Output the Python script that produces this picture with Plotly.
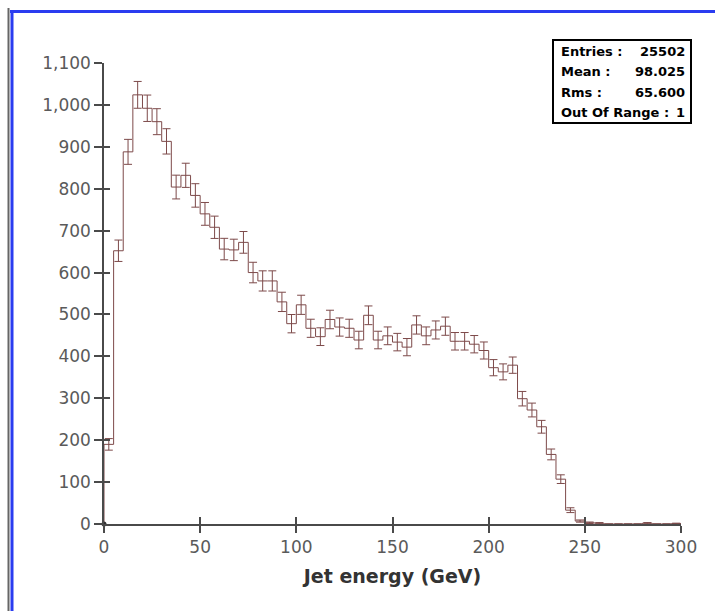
import numpy as np
import plotly.graph_objects as go

# ---- data -------------------------------------------------------------
bin_edges_start = 0
bin_width = 5
counts = [190, 652, 888, 1024, 992, 960, 913, 804, 832, 784,
          740, 708, 656, 654, 672, 600, 580, 580, 530, 478,
          523, 467, 447, 488, 470, 467, 439, 498, 439, 449,
          434, 422, 475, 449, 463, 472, 436, 436, 429, 414,
          373, 363, 379, 299, 272, 232, 166, 107, 33, 7,
          3, 2, 0, 0, 0, 0, 2, 0, 0, 1]
x_ticks = [0, 50, 100, 150, 200, 250, 300]
y_ticks = list(range(0, 1101, 100))
stat_labels = ["Entries :", "Mean :", "Rms :", "Out Of Range :"]
stat_values = ["25502", "98.025", "65.600", "1"]
x_title = "Jet energy (GeV)"

# ---- derived ----------------------------------------------------------
n = len(counts)
edges = [bin_edges_start + i * bin_width for i in range(n + 1)]
centers = [e + bin_width / 2 for e in edges[:-1]]
errors = np.sqrt(np.array(counts, dtype=float))

W, H = 715, 611
L, R, T, B = 104, 34, 63, 87
pw, ph = W - L - R, H - T - B


def px_x(px):
    return (px - L) / pw


def px_y(py):
    return (H - B - py) / ph


line_col = "#7d4a4a"
axis_col = "#4a4a4a"

fig = go.Figure()

# step histogram
fig.add_trace(go.Scatter(
    x=[edges[0]] + edges[:-1] + [edges[-1]],
    y=[0] + counts + [counts[-1]],
    mode="lines", line=dict(color=line_col, width=1, shape="hv"),
    hoverinfo="skip", showlegend=False, cliponaxis=False))

# error bars
fig.add_trace(go.Scatter(
    x=centers, y=counts, mode="markers",
    marker=dict(size=1, color="rgba(0,0,0,0)"),
    error_y=dict(type="data", array=errors, visible=True,
                 color=line_col, thickness=1, width=4),
    showlegend=False, cliponaxis=False))

# origin dot
fig.add_trace(go.Scatter(x=[0], y=[0], mode="markers",
                         marker=dict(size=5, color="#333333"),
                         showlegend=False, cliponaxis=False))

# dummy trace on overlay axes (inside ticks)
fig.add_trace(go.Scatter(x=[0], y=[0], xaxis="x2", yaxis="y2",
                         mode="markers", marker=dict(size=0.1, color="rgba(0,0,0,0)"),
                         showlegend=False, hoverinfo="skip"))

tick_font = dict(family="DejaVu Sans", size=17, color="#5a5a5a")

fig.update_layout(
    width=W, height=H,
    margin=dict(l=L, r=R, t=T, b=B),
    paper_bgcolor="white", plot_bgcolor="white",
    xaxis=dict(range=[0, 300], tickvals=x_ticks, ticks="outside", ticklen=7,
               tickwidth=1.5, tickcolor=axis_col, showline=True, linecolor=axis_col,
               linewidth=1.5, showgrid=False, zeroline=False, tickfont=tick_font,
               title=dict(text=x_title, standoff=14,
                          font=dict(family="DejaVu Sans", size=19, color="#333333",
                                    weight="bold"))),
    yaxis=dict(range=[0, 1100], tickvals=y_ticks, tickformat=",d", ticks="outside",
               ticklen=8, tickwidth=1.5, tickcolor=axis_col, showline=True,
               linecolor=axis_col, linewidth=1.5, showgrid=False, zeroline=False,
               tickfont=tick_font),
    xaxis2=dict(overlaying="x", matches="x", anchor="y2", tickvals=x_ticks,
                ticks="inside", ticklen=7, tickwidth=1.5, tickcolor=axis_col,
                showticklabels=False, showline=False, showgrid=False, zeroline=False),
    yaxis2=dict(overlaying="y", matches="y", anchor="x2", side="left", tickvals=y_ticks,
                ticks="inside", ticklen=6, tickwidth=1.5, tickcolor=axis_col,
                showticklabels=False, showline=False, showgrid=False, zeroline=False),
)

shapes = []
# stats box
shapes.append(dict(type="rect", xref="paper", yref="paper",
                   x0=px_x(553), x1=px_x(691), y0=px_y(123), y1=px_y(40),
                   line=dict(color="black", width=2), fillcolor="white", layer="above"))
# outer frame (left & top)
shapes.append(dict(type="line", xref="paper", yref="paper",
                   x0=px_x(8.5), x1=px_x(8.5), y0=px_y(611), y1=px_y(8),
                   line=dict(color="#666666", width=2)))
shapes.append(dict(type="line", xref="paper", yref="paper",
                   x0=px_x(12), x1=px_x(12), y0=px_y(611), y1=px_y(10),
                   line=dict(color="#2a3cf0", width=3)))
shapes.append(dict(type="line", xref="paper", yref="paper",
                   x0=px_x(10), x1=px_x(715), y0=px_y(11.5), y1=px_y(11.5),
                   line=dict(color="#2a3cf0", width=3)))
fig.update_layout(shapes=shapes)

row_y = [51, 71.5, 92, 112]
stat_font = dict(family="DejaVu Sans", size=13, color="black", weight="bold")
ann = []
for lab, val, py in zip(stat_labels, stat_values, row_y):
    ann.append(dict(xref="paper", yref="paper", x=px_x(559), y=px_y(py),
                    text=lab, showarrow=False, xanchor="left", yanchor="middle",
                    font=stat_font))
    ann.append(dict(xref="paper", yref="paper", x=px_x(687), y=px_y(py),
                    text=val, showarrow=False, xanchor="right", yanchor="middle",
                    font=stat_font))
fig.update_layout(annotations=ann)

fig.write_html("out.html")
